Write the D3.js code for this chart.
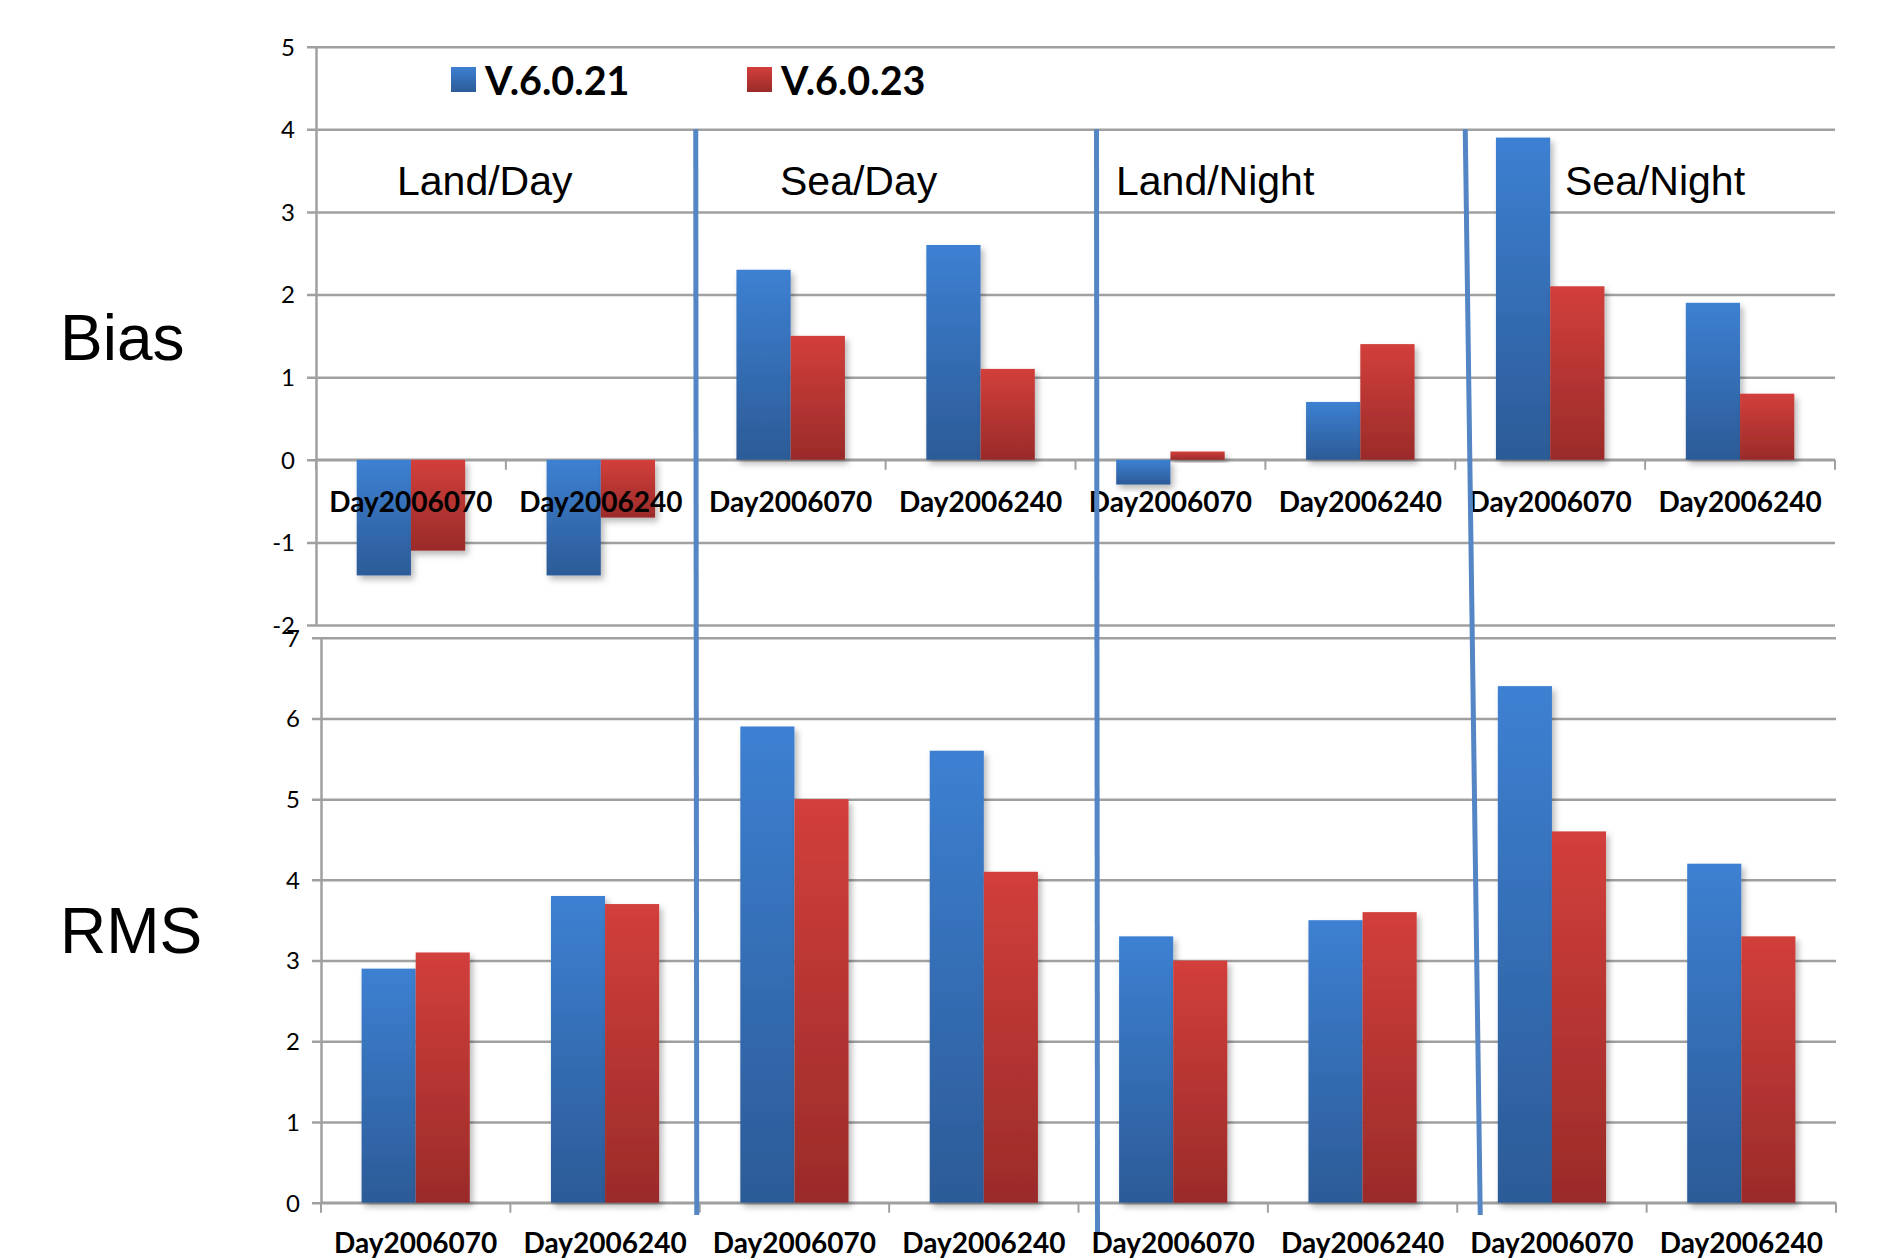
<!DOCTYPE html>
<html>
<head>
<meta charset="utf-8">
<script src="https://cdn.jsdelivr.net/npm/d3@7"></script>
<style>
  html, body { margin: 0; padding: 0; background: #fff; }
  svg { display: block; }
</style>
</head>
<body>
<svg id="chart" width="1879" height="1259"></svg>
<script>
// Surface types and the two observation days compared in each
const groups = ["Land/Day", "Sea/Day", "Land/Night", "Sea/Night"];
const days = ["Day2006070", "Day2006240"];
const series = ["V.6.0.21", "V.6.0.23"];

// Bias per category (groups x days, in order)
const biasV21 = [-1.4, -1.4, 2.3, 2.6, -0.3, 0.7, 3.9, 1.9];
const biasV23 = [-1.1, -0.7, 1.5, 1.1, 0.1, 1.4, 2.1, 0.8];

// RMS per category
const rmsV21 = [2.9, 3.8, 5.9, 5.6, 3.3, 3.5, 6.4, 4.2];
const rmsV23 = [3.1, 3.7, 5.0, 4.1, 3.0, 3.6, 4.6, 3.3];

// Axis tick values
const biasTicks = [-2, -1, 0, 1, 2, 3, 4, 5];
const rmsTicks = [0, 1, 2, 3, 4, 5, 6, 7];

const categories = [];
groups.forEach(g => days.forEach(d => categories.push({ group: g, day: d })));

const svg = d3.select("#chart");
const defs = svg.append("defs");

const gradStops = {
  "V.6.0.21": ["#3d80d2", "#2c5b97"],
  "V.6.0.23": ["#d23f3b", "#9a2b29"]
};
const gradId = { "V.6.0.21": "gBlue", "V.6.0.23": "gRed" };
series.forEach(s => {
  const lg = defs.append("linearGradient")
    .attr("id", gradId[s]).attr("x1", 0).attr("y1", 0).attr("x2", 0).attr("y2", 1);
  lg.append("stop").attr("offset", "0%").attr("stop-color", gradStops[s][0]);
  lg.append("stop").attr("offset", "100%").attr("stop-color", gradStops[s][1]);
});
const shadow = defs.append("filter").attr("id", "barShadow")
  .attr("x", "-20%").attr("y", "-20%").attr("width", "150%").attr("height", "150%");
shadow.append("feDropShadow").attr("dx", 3).attr("dy", 4).attr("stdDeviation", 3)
  .attr("flood-color", "#000").attr("flood-opacity", 0.28);

const gridColor = "#a0a0a0";
const tickFont = "Lato, 'Open Sans', sans-serif";

function drawPanel(cfg) {
  const { x0r, yDomain, yRange, ticks, v21, v23 } = cfg;
  const g = svg.append("g");
  const y = d3.scaleLinear().domain(yDomain).range(yRange);
  const idx = d3.range(categories.length);
  const x0 = d3.scaleBand().domain(idx).range(x0r)
    .paddingInner(1.5 / 3.5).paddingOuter(0.75 / 3.5);
  const x1 = d3.scaleBand().domain(series).range([0, x0.bandwidth()]);
  const step = x0.step();
  const left = x0r[0], right = x0r[1];

  // Horizontal gridlines with outward tick marks
  const grid = g.append("g").attr("transform", `translate(${left - 9},0)`)
    .call(d3.axisRight(y).tickValues(ticks).tickSize(right - left + 9).tickFormat(""));
  grid.select(".domain").remove();
  grid.selectAll(".tick line").attr("stroke", gridColor).attr("stroke-width", 2.5);

  // Y tick labels (plain hyphen for negatives)
  const ya = g.append("g").attr("transform", `translate(${left},0)`)
    .call(d3.axisLeft(y).tickValues(ticks).tickSize(0).tickPadding(21).tickFormat(d => String(d)));
  ya.select(".domain").attr("stroke", gridColor).attr("stroke-width", 2.5);
  ya.selectAll("text").attr("font-family", tickFont).attr("font-size", 24)
    .attr("fill", "#000").attr("dy", "0.35em");

  // Category axis along zero
  const y0 = y(0);
  const boundaries = d3.range(categories.length + 1).map(k => left + k * step);
  g.append("line").attr("x1", left).attr("x2", right).attr("y1", y0).attr("y2", y0)
    .attr("stroke", gridColor).attr("stroke-width", 2.5);
  g.selectAll(".ctick").data(boundaries).join("line").attr("class", "ctick")
    .attr("x1", d => d).attr("x2", d => d).attr("y1", y0).attr("y2", y0 + 10)
    .attr("stroke", gridColor).attr("stroke-width", 2);

  // Bars
  const rows = idx.map(i => ({ i, vals: [{ s: series[0], v: v21[i] }, { s: series[1], v: v23[i] }] }));
  const cg = g.selectAll(".cat").data(rows).join("g").attr("class", "cat")
    .attr("transform", d => `translate(${x0(d.i)},0)`);
  cg.selectAll("rect").data(d => d.vals).join("rect")
    .attr("x", d => x1(d.s)).attr("width", x1.bandwidth())
    .attr("y", d => Math.min(y(d.v), y0))
    .attr("height", d => Math.abs(y(d.v) - y0))
    .attr("fill", d => `url(#${gradId[d.s]})`)
    .attr("filter", "url(#barShadow)");

  // Category labels
  g.selectAll(".clabel").data(rows).join("text").attr("class", "clabel")
    .attr("x", d => x0(d.i) + x0.bandwidth() / 2).attr("y", cfg.labelY)
    .attr("text-anchor", "middle").attr("dominant-baseline", "central")
    .attr("font-family", tickFont).attr("font-weight", 700).attr("font-size", 28)
    .text(d => categories[d.i].day);

  return { x0, y, step, left };
}

const biasPanel = drawPanel({
  x0r: [316, 1835], yDomain: [-2, 5], yRange: [625, 46.7], ticks: biasTicks,
  v21: biasV21, v23: biasV23, labelY: 501
});
const rmsPanel = drawPanel({
  x0r: [321, 1836], yDomain: [0, 7], yRange: [1202.7, 637.7], ticks: rmsTicks,
  v21: rmsV21, v23: rmsV23, labelY: 1242
});

// Group separators (hand-placed dividers between surface types)
const seps = [
  { k: 2, dTop: 0, dBot: 1, yEnd: 1215 },
  { k: 4, dTop: 21, dBot: 22, yEnd: 1232 },
  { k: 6, dTop: 10, dBot: 25, yEnd: 1215 }
];
svg.selectAll(".sep").data(seps).join("line").attr("class", "sep")
  .attr("x1", d => biasPanel.left + d.k * biasPanel.step + d.dTop)
  .attr("x2", d => biasPanel.left + d.k * biasPanel.step + d.dBot)
  .attr("y1", biasPanel.y(4)).attr("y2", d => d.yEnd)
  .attr("stroke", "#5485c4").attr("stroke-width", 5);

// Group titles
const titleX = [397, 780, 1116, 1565];
svg.selectAll(".gtitle").data(groups).join("text").attr("class", "gtitle")
  .attr("x", (d, i) => titleX[i]).attr("y", 195)
  .attr("font-family", "'Liberation Sans', Arial, sans-serif").attr("font-size", 41)
  .text(d => d);

// Legend
const legX = [451, 747];
const leg = svg.selectAll(".leg").data(series).join("g").attr("class", "leg")
  .attr("transform", (d, i) => `translate(${legX[i]},67)`);
leg.append("rect").attr("width", 25).attr("height", 25)
  .attr("fill", d => `url(#${gradId[d]})`);
leg.append("text").attr("x", 34).attr("y", 12).attr("dominant-baseline", "central")
  .attr("font-family", tickFont).attr("font-weight", 700).attr("font-size", 39.5)
  .text(d => d);

// Row titles
svg.append("text").attr("x", 60).attr("y", 360)
  .attr("font-family", "'Liberation Sans', Arial, sans-serif").attr("font-size", 64).text("Bias");
svg.append("text").attr("x", 60).attr("y", 953)
  .attr("font-family", "'Liberation Sans', Arial, sans-serif").attr("font-size", 64).text("RMS");
</script>
</body>
</html>
